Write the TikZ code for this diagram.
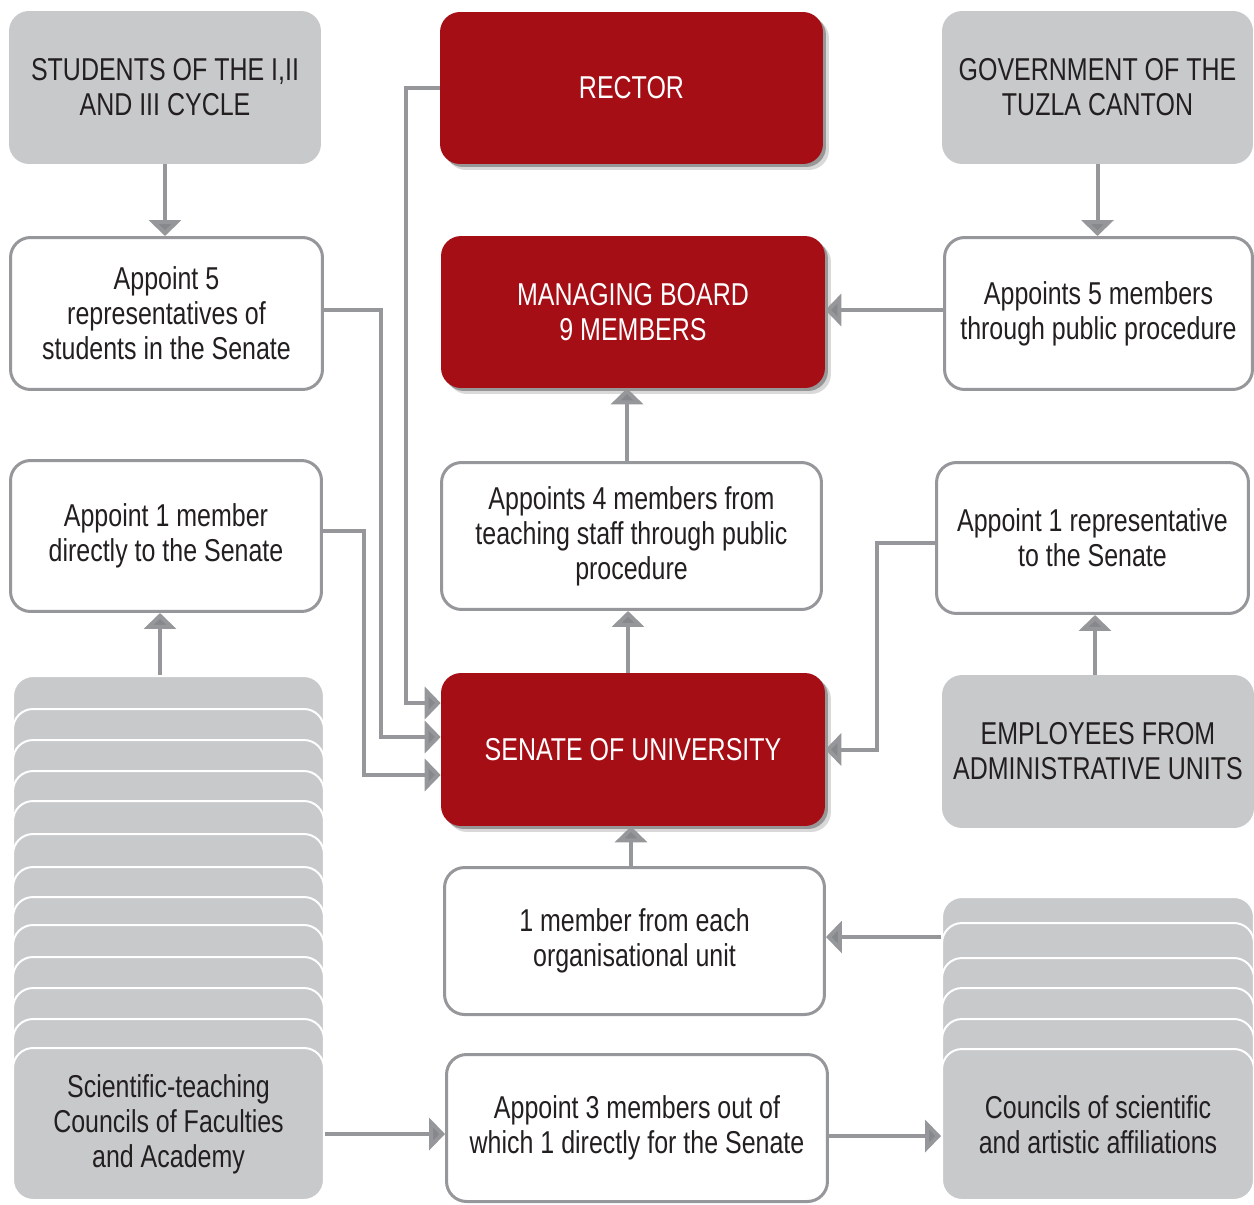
\documentclass[tikz,border=0pt]{standalone}
\usepackage{fontspec}
\setmainfont{Liberation Sans}[FakeStretch=0.79]
\usetikzlibrary{arrows.meta,shadows}
\definecolor{ured}{RGB}{166,14,22}
\definecolor{ugray}{RGB}{200,201,203}
\definecolor{uline}{RGB}{150,151,154}
\definecolor{utext}{RGB}{35,31,32}
\begin{document}
\begin{tikzpicture}[x=0.02cm,y=-0.02cm,
  box/.style={rounded corners=0.4cm, align=center, font=\fontsize{18}{20}\selectfont, text=utext, inner sep=0pt},
  graybox/.style={box, fill=ugray},
  whitebox/.style={box, fill=white, draw=uline, line width=0.06cm},
  redbox/.style={box, fill=ured, text=white,
     drop shadow={shadow xshift=0.06cm, shadow yshift=-0.06cm, opacity=0.3, fill=black},
     drop shadow={shadow xshift=0.12cm, shadow yshift=-0.12cm, opacity=0.15, fill=black}},
  card/.style={box, fill=ugray, draw=white, line width=0.04cm},
  conn/.style={draw=uline, line width=0.08cm, -{Triangle[length=0.32cm,width=0.64cm,fill=uline!90!black]}},
]
\useasboundingbox (0,0) rectangle (1254,1204);
\clip (0,0) rectangle (1254,1204);

% top row
\node[graybox, minimum width=6.24cm, minimum height=3.06cm] (stud) at (165,87.5) {STUDENTS OF THE I,II\\AND III CYCLE};
\node[redbox, minimum width=7.66cm, minimum height=3.04cm] (rector) at (631.5,88) {RECTOR};
\node[graybox, minimum width=6.22cm, minimum height=3.06cm] (gov) at (1097.5,87.5) {GOVERNMENT OF THE\\TUZLA CANTON};

% second row
\node[whitebox, minimum width=6.24cm, minimum height=3.04cm] (app5) at (166.5,313.5) {Appoint 5\\representatives of\\students in the Senate};
\node[redbox, minimum width=7.68cm, minimum height=3.04cm] (mb) at (633,312) {MANAGING BOARD\\9 MEMBERS};
\node[whitebox, minimum width=6.16cm, minimum height=3.04cm] (app5m) at (1098.5,313.5) {Appoints 5 members\\through public procedure};

% third row
\node[whitebox, minimum width=6.22cm, minimum height=3.02cm] (app1) at (166,536) {Appoint 1 member\\directly to the Senate};
\node[whitebox, minimum width=7.60cm, minimum height=2.94cm] (app4) at (631.5,536) {Appoints 4 members from\\teaching staff through public\\procedure};
\node[whitebox, minimum width=6.24cm, minimum height=3.02cm] (app1r) at (1092.5,538) {Appoint 1 representative\\to the Senate};

% fourth row
\node[redbox, minimum width=7.68cm, minimum height=3.06cm] (senate) at (633,749.5) {SENATE OF UNIVERSITY};
\node[graybox, minimum width=6.24cm, minimum height=3.06cm] (emp) at (1098,751.5) {EMPLOYEES FROM\\ADMINISTRATIVE UNITS};

% left stack
\foreach \t [count=\i] in {676,709,740,771,801,834,867,897,925,957,988,1019}
  \node[card, minimum width=6.22cm, minimum height=3.04cm] (s\i) at (168.5,\t+76) {};
\node[card, minimum width=6.22cm, minimum height=3.04cm] (sci) at (168.5,1124) {Scientific-teaching\\Councils of Faculties\\and Academy};

% right stack
\foreach \t [count=\i] in {897,923,958,988,1019}
  \node[card, minimum width=6.24cm, minimum height=3.02cm] (r\i) at (1098,\t+75.5) {};
\node[card, minimum width=6.24cm, minimum height=3.02cm] (coun) at (1098,1124.5) {Councils of scientific\\and artistic affiliations};

% bottom middle
\node[whitebox, minimum width=7.60cm, minimum height=2.94cm] (one) at (634.5,941) {1 member from each\\organisational unit};
\node[whitebox, minimum width=7.62cm, minimum height=2.94cm] (app3) at (637,1128) {Appoint 3 members out of\\which 1 directly for the Senate};

% connectors
\draw[conn] (stud.south) -- (stud.south |- app5.north);
\draw[conn] (gov.south) -- (gov.south |- app5m.north);
\draw[conn] ([yshift=0.07cm]app5m.west) -- ([yshift=0.07cm]app5m.west -| mb.east);
\draw[conn] ([xshift=-0.09cm]app4.north) -- ([xshift=-0.09cm]app4.north |- mb.south);
\draw[conn] ([xshift=-0.1cm]senate.north) -- ([xshift=-0.1cm]senate.north |- app4.south);
\draw[conn] ([xshift=-0.07cm]one.north) -- ([xshift=-0.07cm]one.north |- senate.south);
\draw[conn] ([yshift=0.08cm]one.east -| r1.west) -- ([yshift=0.08cm]one.east);
\draw[conn] ([yshift=-0.12cm]sci.east |- app3.west) -- ([yshift=-0.12cm]app3.west);
\draw[conn] ([yshift=-0.16cm]app3.east) -- ([yshift=-0.16cm]app3.east -| coun.west);
\draw[conn] ([xshift=-0.17cm]s1.north) -- ([xshift=-0.17cm]s1.north |- app1.south);
\draw[conn] ([xshift=-0.06cm]emp.north) -- ([xshift=-0.06cm]emp.north |- app1r.south);
\draw[conn] ([yshift=-0.1cm]app1r.west) -- ++(-58.5,0) |- (senate.east);
\draw[conn] (rector.west) -- ++(-34,0) |- ([yshift=0.93cm]senate.west);
\draw[conn] ([yshift=0.07cm]app5.east) -- ++(57.5,0) |- ([yshift=0.25cm]senate.west);
\draw[conn] ([yshift=0.1cm]app1.east) -- ++(41.5,0) |- ([yshift=-0.51cm]senate.west);
\end{tikzpicture}
\end{document}
